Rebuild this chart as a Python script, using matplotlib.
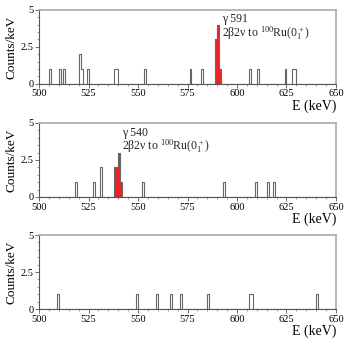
import numpy as np
import matplotlib
matplotlib.use("Agg")
import matplotlib.pyplot as plt

plt.rcParams['font.family'] = ['Liberation Serif', 'DejaVu Serif']
plt.rcParams['mathtext.fontset'] = 'custom'
plt.rcParams['mathtext.rm'] = 'Liberation Serif'

# Data: 1 keV bins, non-zero bins per panel
p1_bins = [505, 510, 512, 520, 521, 524, 538, 539, 553, 576, 582, 589, 590, 591, 606, 610, 624, 628, 629]
p1_counts = [1, 1, 1, 2, 1, 1, 1, 1, 1, 1, 1, 3, 4, 1, 1, 1, 1, 1, 1]
p1_red = (589, 592)

p2_bins = [518, 527, 531, 538, 539, 540, 541, 552, 593, 609, 615, 618]
p2_counts = [1, 1, 2, 2, 2, 3, 1, 1, 1, 1, 1, 1]
p2_red = (538, 542)

p3_bins = [509, 549, 559, 566, 571, 585, 606, 607, 640]
p3_counts = [1, 1, 1, 1, 1, 1, 1, 1, 1]

x_ticks = [500, 525, 550, 575, 600, 625, 650]
y_ticks = [0, 2.5, 5]
y_tick_labels = ["0", "2.5", "5"]

edges = np.arange(500, 651, 1)

def make_hist(bins, counts):
    h = np.zeros(len(edges) - 1)
    for b, c in zip(bins, counts):
        h[b - 500] = c
    return h

fig = plt.figure(figsize=(3.46, 3.45), dpi=100)
panels = [
    (p1_bins, p1_counts, p1_red, 0.757, "γ 591"),
    (p2_bins, p2_counts, p2_red, 0.429, "γ 540"),
    (p3_bins, p3_counts, None, 0.1043, None),
]
ann_pos = [(592.3, 4.35), (541.8, 4.35)]

for i, (bins, counts, red, bottom, ann) in enumerate(panels):
    ax = fig.add_axes([0.113, bottom, 0.858, 0.2145])
    h = make_hist(bins, counts)
    if red is not None:
        mask = (edges[:-1] >= red[0]) & (edges[:-1] < red[1])
        sub_edges = edges[(edges >= red[0]) & (edges <= red[1])]
        ax.stairs(h[mask], sub_edges, fill=True, color='#ee2222', zorder=2)
    ax.stairs(h, edges, color='#666666', linewidth=0.8, zorder=3)
    ax.set_xlim(500, 650)
    ax.set_ylim(0, 5)
    ax.set_xticks(x_ticks)
    ax.set_xticks(np.arange(500, 651, 5), minor=True)
    ax.set_yticks(y_ticks)
    ax.set_yticklabels(y_tick_labels)
    ax.set_yticks(np.arange(0, 5.01, 0.5), minor=True)
    ax.tick_params(axis='both', which='major', labelsize=7.5, length=3, width=0.6, color='#555555', pad=1)
    ax.tick_params(axis='both', which='minor', length=1.5, width=0.5, color='#777777')
    for s in ['left', 'bottom']:
        ax.spines[s].set_color('#555555')
        ax.spines[s].set_linewidth(0.8)
    for s in ['top', 'right']:
        ax.spines[s].set_color('#aaaaaa')
        ax.spines[s].set_linewidth(1.2)
    ax.set_ylabel("Counts/keV", fontsize=9.5, labelpad=2)
    ax.text(1.0, -0.215, "E (keV)", transform=ax.transAxes, ha='right', va='top', fontsize=10)
    if ann is not None:
        x0, y0 = ann_pos[i]
        ax.text(x0, y0, ann, fontsize=8.5, ha='left', va='center', color='#222222')
        ax.text(x0, y0 - 0.95, "2β2ν to $\\mathrm{^{100}}$Ru(0$\\mathrm{_1^+}$)", fontsize=8.5,
                ha='left', va='center', color='#222222')

fig.savefig("out.png", dpi=100)
